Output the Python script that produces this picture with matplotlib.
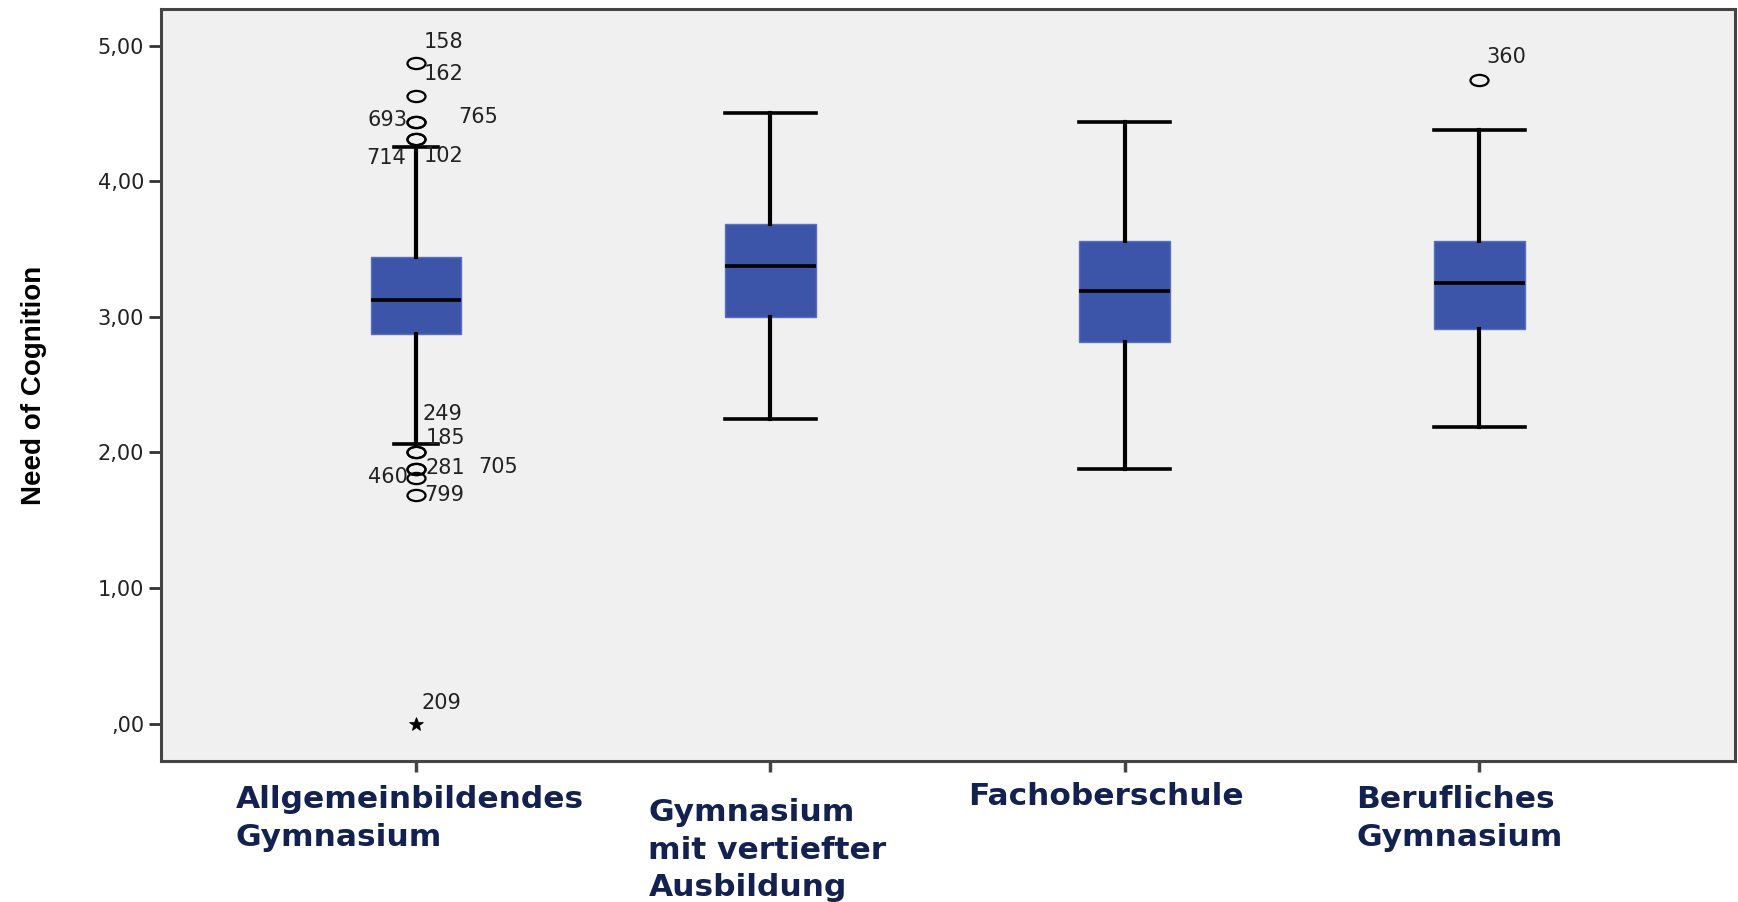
import numpy as np
import matplotlib
matplotlib.use("Agg")
import matplotlib.pyplot as plt
from matplotlib import font_manager
from matplotlib.path import Path
from matplotlib.transforms import Affine2D, blended_transform_factory

# groups on the x axis
GROUPS = ["Allgemeinbildendes\nGymnasium",
          "Gymnasium\nmit vertiefter\nAusbildung",
          "Fachoberschule",
          "Berufliches\nGymnasium"]

# box statistics per group
Q1 = [2.875, 3.0, 2.8125, 2.91]
MEDIAN = [3.125, 3.375, 3.1875, 3.25]
Q3 = [3.4375, 3.6875, 3.5625, 3.5625]
WHISK_LO = [2.0625, 2.25, 1.875, 2.1875]
WHISK_HI = [4.25, 4.5, 4.4375, 4.375]

# outliers: (group index, value, case id)
OUTLIERS = [
    (0, 4.875, "158"), (0, 4.625, "162"),
    (0, 4.4375, "693"), (0, 4.4375, "765"),
    (0, 4.3125, "714"), (0, 4.3125, "102"),
    (0, 2.0, "249"), (0, 2.0, "185"),
    (0, 1.875, "281"), (0, 1.875, "705"),
    (0, 1.8125, "460"), (0, 1.6875, "799"),
    (3, 4.75, "360"),
]
EXTREMES = [(0, 0.0, "209")]

# label offsets in pixels relative to the marker (dx, dy, ha)
LABEL_OFFSETS = {
    "158": (8, 21, "left"), "162": (8, 22, "left"),
    "693": (-8, 2, "right"), "765": (42, 5, "left"),
    "714": (-10, -19, "right"), "102": (8, -17, "left"),
    "249": (7, 38, "left"), "185": (10, 14, "left"),
    "281": (10, 1, "left"), "705": (62, 2, "left"),
    "460": (-8, 1, "right"), "799": (8, 0, "left"),
    "360": (7, 23, "left"), "209": (6, 21, "left"),
}

YTICKS = [0, 1, 2, 3, 4, 5]
YTICKLABELS = [",00", "1,00", "2,00", "3,00", "4,00", "5,00"]

BOX_BLUE = "#3c55a8"
NAVY = "#12214f"

# narrow bold face for the y label if available
names = {f.name for f in font_manager.fontManager.ttflist}
if "Liberation Sans Narrow" in names:
    YLAB_FONT, YLAB_SIZE = "Liberation Sans Narrow", 25
else:
    YLAB_FONT, YLAB_SIZE = "Liberation Sans", 20

fig = plt.figure(figsize=(17.38, 9.02), dpi=100)
ax = fig.add_axes([0.0925, 0.156, 0.9055, 0.834])
ax.set_facecolor("#f0f0f0")

stats = []
for i in range(len(GROUPS)):
    stats.append(dict(q1=Q1[i], med=MEDIAN[i], q3=Q3[i],
                      whislo=WHISK_LO[i], whishi=WHISK_HI[i], fliers=[]))

ax.bxp(stats, positions=range(len(GROUPS)), widths=0.256,
       capwidths=[0.125, 0.256, 0.256, 0.256],
       showfliers=False, patch_artist=True,
       boxprops=dict(facecolor=BOX_BLUE, edgecolor="#5a70bf", linewidth=1.0),
       medianprops=dict(color="black", linewidth=2.6),
       whiskerprops=dict(color="black", linewidth=3.0),
       capprops=dict(color="black", linewidth=2.6))

# ellipse-shaped open circle like SPSS output
ellipse = Path.unit_circle().transformed(Affine2D().scale(1.0, 0.62))

ox = [g for g, v, _ in OUTLIERS]
oy = [v for g, v, _ in OUTLIERS]
ax.plot(ox, oy, linestyle="none", marker=ellipse, markersize=13,
        markerfacecolor="none", markeredgecolor="black", markeredgewidth=1.6)
ex = [g for g, v, _ in EXTREMES]
ey = [v for g, v, _ in EXTREMES]
ax.plot(ex, ey, linestyle="none", marker="*", markersize=10,
        color="black", markeredgewidth=0.5)

for g, v, lab in OUTLIERS + EXTREMES:
    dx, dy, ha = LABEL_OFFSETS[lab]
    ax.annotate(lab, (g, v), xytext=(dx, dy), textcoords="offset pixels",
                ha=ha, va="center", fontsize=15, color="#222222")

ax.set_xlim(-0.72, 3.72)
ax.set_ylim(-0.278, 5.27)
ax.set_yticks(YTICKS)
ax.set_yticklabels(YTICKLABELS, fontsize=15, color="#222222")
ax.set_xticks(range(len(GROUPS)))
ax.set_xticklabels([])
ax.tick_params(axis="y", direction="out", length=9, width=2, color="#333333", pad=3)
ax.tick_params(axis="x", direction="out", length=8, width=2.5, color="#444444")
for sp in ax.spines.values():
    sp.set_color("#444444")
    sp.set_linewidth(2.2)

ax.set_ylabel("Need of Cognition", family=YLAB_FONT,
              fontweight="bold", fontsize=YLAB_SIZE, color="black")
ax.yaxis.set_label_coords(-0.072, 0.5)

# group labels placed like text boxes under the axis
trans = blended_transform_factory(ax.transData, ax.transAxes)
LABEL_POS = [(-180, -24), (-122, -37), (-157, -21), (-123, -24)]
for i, name in enumerate(GROUPS):
    dx, dy = LABEL_POS[i]
    ax.annotate(name, (i, 0), xycoords=trans, xytext=(dx, dy),
                textcoords="offset pixels", ha="left", va="top",
                fontsize=22.5, fontweight="bold", color=NAVY,
                family="DejaVu Sans", linespacing=1.36)

fig.savefig("out.png", dpi=100, facecolor="white")
